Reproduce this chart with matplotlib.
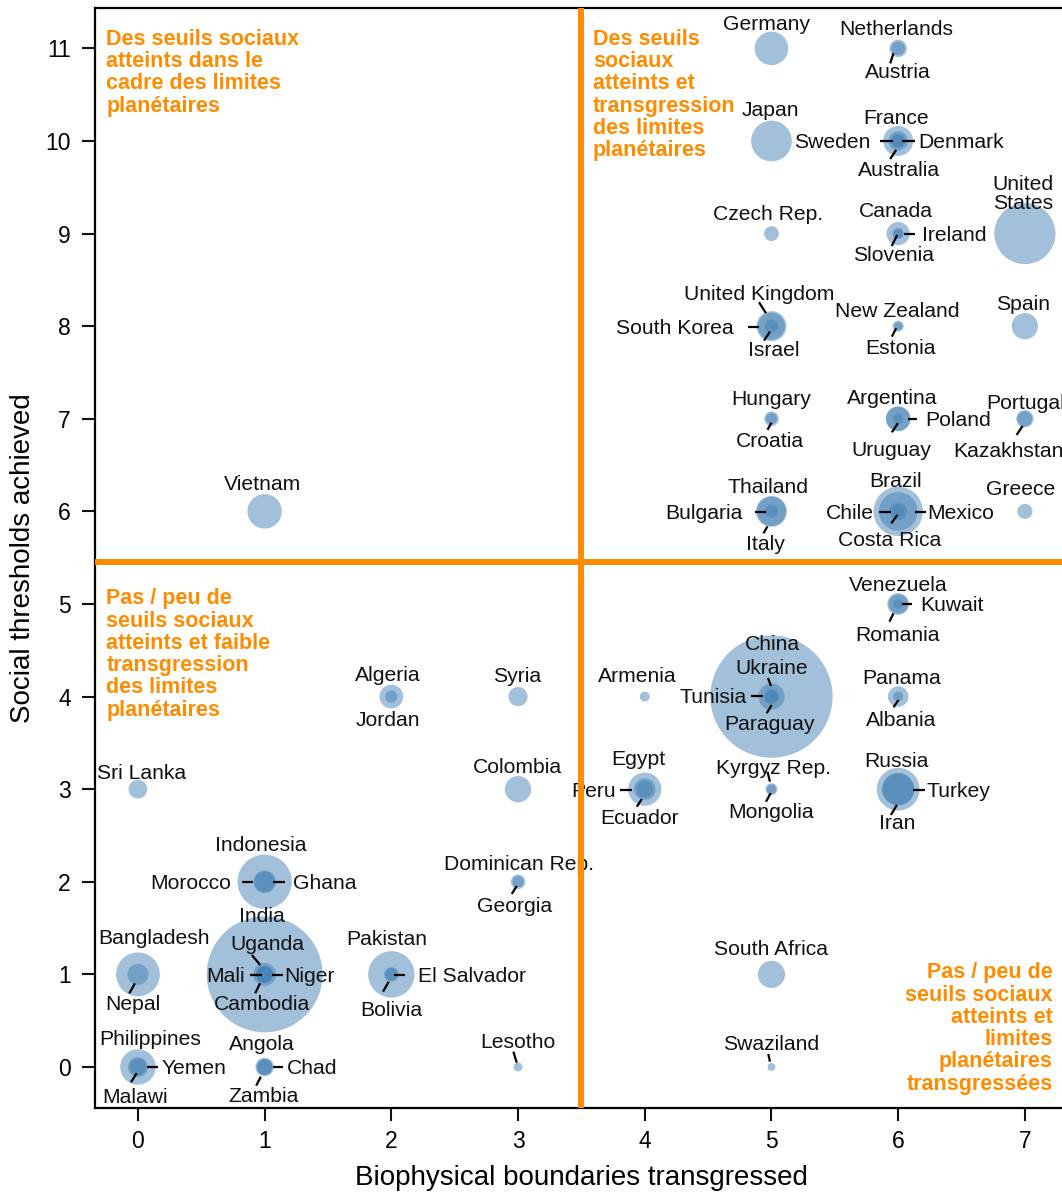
import numpy as np
import matplotlib.pyplot as plt
import matplotlib.transforms as mtransforms

plt.rcParams['font.family'] = ['Liberation Sans', 'DejaVu Sans']

# pays, limites biophysiques transgressées (x), seuils sociaux atteints (y), population (millions)
countries = ['Germany', 'Netherlands', 'Austria', 'Japan', 'France', 'Sweden', 'Denmark', 'Australia',
             'Czech Rep.', 'Canada', 'Ireland', 'Slovenia', 'United\nStates',
             'United Kingdom', 'South Korea', 'Israel', 'New Zealand', 'Estonia', 'Spain',
             'Hungary', 'Croatia', 'Argentina', 'Poland', 'Uruguay', 'Portugal', 'Kazakhstan',
             'Vietnam', 'Thailand', 'Bulgaria', 'Italy', 'Brazil', 'Chile', 'Mexico', 'Costa Rica', 'Greece',
             'Venezuela', 'Kuwait', 'Romania',
             'Algeria', 'Jordan', 'Syria', 'Armenia', 'China', 'Ukraine', 'Tunisia', 'Paraguay', 'Panama', 'Albania',
             'Sri Lanka', 'Colombia', 'Egypt', 'Peru', 'Ecuador', 'Kyrgyz Rep.', 'Mongolia', 'Russia', 'Turkey', 'Iran',
             'Indonesia', 'Morocco', 'Ghana', 'Dominican Rep.', 'Georgia',
             'India', 'Uganda', 'Mali', 'Niger', 'Cambodia', 'Bangladesh', 'Nepal',
             'Pakistan', 'El Salvador', 'Bolivia', 'South Africa',
             'Philippines', 'Yemen', 'Malawi', 'Angola', 'Chad', 'Zambia', 'Lesotho', 'Swaziland']
boundaries = [5, 6, 6, 5, 6, 6, 6, 6,
              5, 6, 6, 6, 7,
              5, 5, 5, 6, 6, 7,
              5, 5, 6, 6, 6, 7, 7,
              1, 5, 5, 5, 6, 6, 6, 6, 7,
              6, 6, 6,
              2, 2, 3, 4, 5, 5, 5, 5, 6, 6,
              0, 3, 4, 4, 4, 5, 5, 6, 6, 6,
              1, 1, 1, 3, 3,
              1, 1, 1, 1, 1, 0, 0,
              2, 2, 2, 5,
              0, 0, 0, 1, 1, 1, 3, 5]
social = [11, 11, 11, 10, 10, 10, 10, 10,
          9, 9, 9, 9, 9,
          8, 8, 8, 8, 8, 8,
          7, 7, 7, 7, 7, 7, 7,
          6, 6, 6, 6, 6, 6, 6, 6, 6,
          5, 5, 5,
          4, 4, 4, 4, 4, 4, 4, 4, 4, 4,
          3, 3, 3, 3, 3, 3, 3, 3, 3, 3,
          2, 2, 2, 2, 2,
          1, 1, 1, 1, 1, 1, 1,
          1, 1, 1, 1,
          0, 0, 0, 0, 0, 0, 0, 0]
pop = [82, 16.6, 8.4, 127, 63, 9.4, 5.6, 22,
       10.5, 34, 4.6, 2, 310,
       63, 49, 7.6, 4.4, 1.3, 46,
       10, 4.3, 40, 38, 3.3, 10.6, 16,
       87, 67, 7.4, 60, 195, 17, 113, 4.6, 11,
       29, 2.7, 21,
       36, 6, 21, 3, 1340, 46, 10.5, 6.5, 25, 3,
       20, 46, 80, 29, 15, 5.4, 2.7, 142, 73, 75,
       240, 32, 24, 10, 4.4,
       1200, 33, 15, 16, 14, 150, 27,
       170, 6.2, 10, 50,
       93, 23, 15, 19, 11.7, 13, 2, 1.2]

# placement des étiquettes : (alignement, dx, dy en pixels vers le bas, trait de rappel)
layout = {
    'Germany': ('c', -4.8, -25.7, None),
    'Netherlands': ('c', -2, -20, None),
    'Austria': ('c', -0.5, 22.3, (-4.7, 4.9, -8, 15)),
    'Japan': ('c', -1.5, -32, None),
    'France': ('c', -2.3, -24.3, None),
    'Sweden': ('l', -27.3, 0, (-18, 0, -5, 0)),
    'Denmark': ('r', 20.3, 0, (3.7, 0, 17, 0)),
    'Australia': ('c', 0.7, 28.3, (-2, 9, -8, 18)),
    'Czech Rep.': ('c', -3.8, -20.3, None),
    'Canada': ('c', -2, -23.6, None),
    'Ireland': ('r', 23.7, 0, (6, 0, 17, 0)),
    'Slovenia': ('c', -4.7, 20.4, (-1, 1.5, -6.5, 12.5)),
    'United\nStates': ('c', -1.5, -41, None),
    'United Kingdom': ('c', -11.8, -33, (-12.5, -24, -5.5, -13)),
    'South Korea': ('l', -38.2, 0.5, (-23, 0.5, -12, 0.5)),
    'Israel': ('c', 2.5, 23.1, (-1.5, 5.5, -7.5, 14.5)),
    'New Zealand': ('c', -0.5, -16.2, None),
    'Estonia': ('c', 2.3, 21, (-2, 2, -6.3, 10.5)),
    'Spain': ('c', -2.3, -23.5, None),
    'Hungary': ('c', 0, -20.5, None),
    'Croatia': ('c', -1.5, 21.2, (0, 4, -4, 11)),
    'Argentina': ('c', -5.7, -21.5, None),
    'Poland': ('r', 27, 0.5, (10, 0.5, 18.7, 0.5)),
    'Uruguay': ('c', -6.8, 30.5, (-0.3, 4.5, -6.3, 13.5)),
    'Portugal': ('c', 0.7, -17, None),
    'Kazakhstan': ('c', -16, 31, (-2.3, 7.2, -8.3, 16.2)),
    'Vietnam': ('c', -1.7, -28, None),
    'Thailand': ('c', -3.5, -25.4, None),
    'Bulgaria': ('l', -28.8, 0.3, (-16.5, 0.3, -5, 0.3)),
    'Italy': ('c', -5.7, 32, (-4, 15, -8, 22)),
    'Brazil': ('c', -3, -31.4, None),
    'Chile': ('l', -24.7, 0.3, (-18.7, 0.3, -7.3, 0.3)),
    'Mexico': ('r', 29.3, 0.3, (17, 0.3, 28, 0.3)),
    'Costa Rica': ('c', -8.5, 28, (-0.7, 3.6, -7, 12)),
    'Greece': ('c', -4.2, -23, None),
    'Venezuela': ('c', 0, -20, None),
    'Kuwait': ('r', 22, 0.3, (3.7, 0.3, 13.7, 0.3)),
    'Romania': ('c', -1, 30, (-4.7, 9.3, -8.7, 17.7)),
    'Algeria': ('c', -3.5, -22.6, None),
    'Jordan': ('c', -3, 22.4, None),
    'Syria': ('c', -1, -21.6, None),
    'Armenia': ('c', -7.7, -21.6, None),
    'China': ('c', 1, -53.3, None),
    'Ukraine': ('c', 0.5, -29.3, (-3.5, -18.6, -0.5, -10.6)),
    'Tunisia': ('l', -24.8, -0.6, (-20.8, -0.6, -8.2, -0.6)),
    'Paraguay': ('c', -1.5, 26.7, (0.2, 8.4, -4.8, 16.7)),
    'Panama': ('c', 3.7, -20, None),
    'Albania': ('c', 2.5, 22.7, (0.3, 3.4, -4.7, 10.7)),
    'Sri Lanka': ('c', 3.5, -17, None),
    'Colombia': ('c', -1, -23, None),
    'Egypt': ('c', -6.5, -31, None),
    'Peru': ('l', -28.8, 0.8, (-24.8, 0.8, -13.1, 0.8)),
    'Ecuador': ('c', -5.3, 27.5, (-3, 10, -8, 17.5)),
    'Kyrgyz Rep.': ('c', 1.8, -22.5, (-4, -17.5, -1.5, -7.5)),
    'Mongolia': ('c', -0.7, 21.5, (-0.8, 4, -5.5, 12.5)),
    'Russia': ('c', -2, -29, None),
    'Turkey': ('r', 28, 0.8, (14.7, 0.8, 27, 0.8)),
    'Iran': ('c', -0.5, 32.5, (-1.3, 15.8, -7.3, 25.8)),
    'Indonesia': ('c', -4.3, -37.8, None),
    'Morocco': ('l', -33.8, 0, (-22.8, 0, -11.2, 0)),
    'Ghana': ('r', 28.8, 0, (8.8, 0, 20.5, 0)),
    'Dominican Rep.': ('c', 1, -18.5, None),
    'Georgia': ('c', -3.8, 23.2, (-1.3, 4.2, -6.3, 12.2)),
    'India': ('c', -2.5, -59.4, None),
    'Uganda': ('c', 2.5, -31.7, (-12.8, -19.4, -4.5, -9.4)),
    'Mali': ('l', -19.5, 0.6, (-14.5, 0.6, -2.8, 0.6)),
    'Niger': ('r', 19.5, 0.6, (7.8, 0.6, 18.8, 0.6)),
    'Cambodia': ('c', -2.3, 28.3, (-4.5, 8.9, -9.5, 18.9)),
    'Bangladesh': ('c', 15.8, -37.7, None),
    'Nepal': ('c', -4.7, 29, (-3, 9, -8.7, 19)),
    'Pakistan': ('c', -4.7, -36, None),
    'El Salvador': ('r', 26.3, 0.6, (2.3, 0.6, 14, 0.6)),
    'Bolivia': ('c', -0.2, 35, (-2.7, 7.3, -8.3, 17.3)),
    'South Africa': ('c', -0.7, -26, None),
    'Philippines': ('c', 11.8, -28.7, None),
    'Yemen': ('r', 23.7, 0.3, (8.7, 0.3, 20.3, 0.3)),
    'Malawi': ('c', -3, 29, (-1.3, 6.3, -7, 15.3)),
    'Angola': ('c', -3.3, -24.3, None),
    'Chad': ('r', 22.2, 0.3, (8.2, 0.3, 18.8, 0.3)),
    'Zambia': ('c', -1.5, 28, (-3.8, 9.7, -8.5, 18.7)),
    'Lesotho': ('c', -0.5, -26.3, (-4.7, -15.3, -1.3, -4.3)),
    'Swaziland': ('c', -0.5, -23.7, (-3.2, -13, -1.5, -5.3)),
}

orange = '#ff8c00'

fig = plt.figure(figsize=(10.62, 11.93), dpi=100)
ax = fig.add_axes([95 / 1062, 85 / 1193, 967 / 1062, 1100 / 1193])
ax.set_xlim(-0.339, 7.293)
ax.set_ylim(-0.443, 11.436)

# taille des bulles : rayon en pixels fonction de la racine de la population
radius = 2.2 + 1.61 * np.sqrt(np.array(pop))
sizes = (2 * radius * 72 / fig.dpi) ** 2
order = np.argsort(-np.array(pop))
ax.scatter(np.array(boundaries)[order], np.array(social)[order], s=sizes[order],
           color='#4682b4', alpha=0.5, linewidths=0, zorder=2)

for name, bx, sy in zip(countries, boundaries, social):
    mode, dx, dy, line = layout[name]
    ha = {'c': 'center', 'l': 'right', 'r': 'left'}[mode]
    # va='center' place le texte un peu trop haut : petit décalage vers le bas
    ax.annotate(name, (bx, sy), xytext=(dx, -dy - 1.5), textcoords='offset pixels',
                ha=ha, va='center', fontsize=15.2, color='#111111',
                linespacing=0.95, zorder=3, annotation_clip=False)
    if line is not None:
        tr = mtransforms.ScaledTranslation(bx, sy, ax.transData)
        ax.plot([line[0], line[2]], [-line[1], -line[3]], color='black', lw=1.6,
                transform=tr, solid_capstyle='butt', zorder=3, clip_on=False)

# lignes de séparation des quadrants
ax.axvline(3.5, color=orange, lw=4.3, zorder=5)
ax.axhline(5.45, color=orange, lw=4.3, zorder=5)

tkw = dict(color=orange, fontsize=15.5, fontweight='bold', linespacing=1.08, zorder=6)
ax.text(-0.25, 11.21, 'Des seuils sociaux\natteints dans le\ncadre des limites\nplanétaires',
        ha='left', va='top', **tkw)
ax.text(3.59, 11.21, 'Des seuils\nsociaux\natteints et\ntransgression\ndes limites\nplanétaires',
        ha='left', va='top', **tkw)
ax.text(-0.25, 5.17, 'Pas / peu de\nseuils sociaux\natteints et faible\ntransgression\ndes limites\nplanétaires',
        ha='left', va='top', **tkw)
ax.text(7.22, 1.13, 'Pas / peu de\nseuils sociaux\natteints et\nlimites\nplanétaires\ntransgressées',
        ha='right', va='top', multialignment='right', **tkw)

ax.set_xticks(range(8))
ax.set_yticks(range(12))
ax.tick_params(direction='out', length=9.5, width=1.5, labelsize=16.5, color='#111111')
ax.tick_params(axis='x', pad=6)
ax.tick_params(axis='y', pad=8)
for side in ['left', 'bottom', 'top']:
    ax.spines[side].set_linewidth(1.6)
ax.spines['right'].set_visible(False)

ax.set_xlabel('Biophysical boundaries transgressed', fontsize=20)
ax.set_ylabel('Social thresholds achieved', fontsize=20)
ax.xaxis.set_label_coords(0.503, -0.052)
ax.yaxis.set_label_coords(-0.061, 0.5)

fig.savefig('out.png', dpi=100)
